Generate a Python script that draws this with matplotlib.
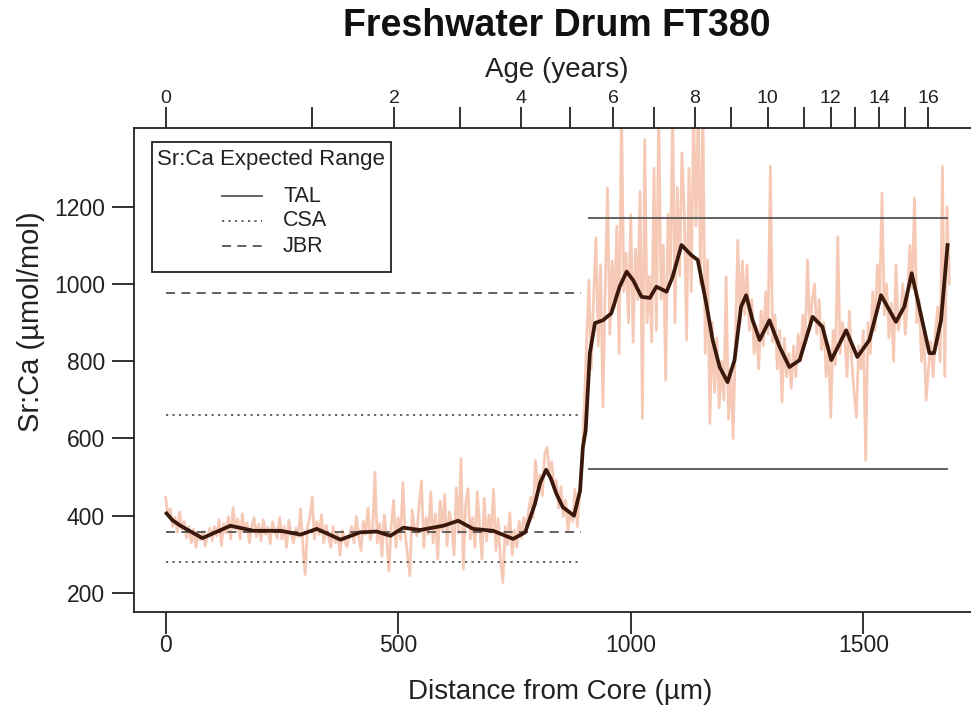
import numpy as np
import matplotlib
matplotlib.use('Agg')
import matplotlib.pyplot as plt
from matplotlib.lines import Line2D
from matplotlib.patches import Rectangle

plt.rcParams['font.family'] = ['Liberation Sans', 'DejaVu Sans']

# ---------------- data ----------------
raw_start = 0      # µm
raw_step = 5       # µm between laser-ablation samples
raw_srca = [
    448, 400, 418, 372, 395, 358, 410, 365, 385, 342,
    372, 330, 365, 318, 352, 338, 360, 322, 345, 368,
    335, 372, 348, 390, 322, 380, 355, 398, 340, 421,
    365, 392, 340, 405, 358, 382, 330, 372, 395, 345,
    378, 335, 390, 352, 370, 328, 384, 360, 342, 395,
    340, 372, 318, 388, 350, 330, 368, 345, 418, 325,
    248, 372, 395, 448, 340, 385, 352, 402, 330, 375,
    345, 318, 372, 330, 355, 298, 362, 335, 320, 350,
    372, 330, 398, 345, 310, 385, 352, 420, 338, 365,
    512, 330, 380, 295, 402, 345, 257, 372, 440, 318,
    395, 338, 486, 352, 300, 244, 415, 372, 348, 430,
    491, 318, 395, 352, 462, 330, 405, 288, 438, 360,
    455, 322, 410, 378, 298, 472, 355, 548, 262, 430,
    470, 340, 395, 318, 462, 372, 288, 445, 335, 402,
    355, 468, 310, 392, 285, 227, 372, 325, 408, 298,
    362, 318, 385, 342, 395, 372, 410, 448, 395, 543,
    470, 505, 452, 560, 577, 515, 540, 468, 492, 420,
    475, 398, 440, 362, 410, 385, 468, 372, 455, 540,
    680, 850, 1010, 780, 960, 1120, 840, 1050, 681, 990,
    1249, 870, 1060, 940, 1150, 820, 1460, 980, 1080, 900,
    1180, 850, 1090, 960, 1240, 652, 1374, 900, 1020, 850,
    1300, 880, 1460, 960, 1100, 751, 1180, 1020, 1460, 900,
    1250, 1020, 1340, 1180, 855, 1300, 980, 1460, 1150, 1460,
    1000, 1460, 820, 1062, 639, 900, 720, 860, 680, 800,
    700, 1019, 650, 780, 600, 860, 1114, 900, 1060, 920,
    1050, 880, 960, 820, 890, 780, 930, 840, 980, 870,
    1305, 850, 920, 780, 880, 694, 860, 760, 820, 730,
    840, 760, 870, 800, 920, 850, 1062, 880, 960, 1000,
    870, 960, 830, 900, 760, 840, 655, 880, 790, 1123,
    820, 900, 860, 760, 930, 800, 720, 655, 840, 780,
    880, 543, 900, 820, 980, 880, 1050, 960, 1236, 920,
    1000, 860, 950, 800, 1050, 880, 920, 1000, 870, 960,
    1100, 990, 1223, 900, 960, 800, 880, 699, 780, 850,
    760, 880, 940, 800, 1305, 760, 1200, 1000,
]

smooth_dist = [2, 15, 32, 79, 139, 189, 247, 290, 325, 376, 418, 454, 483, 511,
               547, 597, 629, 661, 704, 747, 773, 794, 805, 818, 828, 840, 854,
               878, 891, 897, 903, 912, 923, 940, 958, 976, 991, 1005, 1023,
               1041, 1055, 1077, 1090, 1109, 1130, 1144, 1162, 1176, 1191, 1208,
               1223, 1237, 1248, 1262, 1277, 1298, 1320, 1341, 1363, 1391, 1412,
               1431, 1463, 1487, 1513, 1538, 1570, 1588, 1604, 1620, 1642, 1652,
               1667, 1681]
smooth_srca = [406, 388, 374, 342, 374, 361, 361, 351, 366, 338, 357, 359, 348, 369,
               363, 374, 387, 366, 361, 340, 357, 431, 485, 519, 497, 457, 422,
               400, 465, 577, 621, 821, 899, 906, 924, 993, 1032, 1010, 967,
               964, 993, 980, 1019, 1101, 1075, 1062, 951, 855, 785, 746,
               803, 941, 971, 906, 855, 906, 837, 785, 803, 915, 889,
               803, 880, 811, 855, 971, 902, 941, 1028, 941, 821, 821,
               906, 1101]

range_names = ['TAL', 'CSA', 'JBR']
range_low = [522, 279, 357]
range_high = [1171, 662, 977]
range_start = [908, 0, 0]
range_end = [1682, 892, 892]
range_styles = ['-', (0, (1.2, 2.4)), (0, (5, 3.5))]

bottom_ticks = [0, 500, 1000, 1500]
y_ticks = [200, 400, 600, 800, 1000, 1200]
age_dist = [0, 315, 491, 632, 765, 870, 962, 1050, 1138, 1216, 1294, 1372,
            1430, 1483, 1534, 1589, 1639]
age_labels = ['0', '', '2', '', '4', '', '6', '', '8', '', '10', '', '12',
              '', '14', '', '16']

# ---------------- figure ----------------
W, H = 971, 717
fig = plt.figure(figsize=(W / 100, H / 100), dpi=100)
fig.patch.set_facecolor('white')

def fx(px):
    return px / W

def fy(py):
    return 1 - py / H

ax_l, ax_r, ax_t, ax_b = 134, 975, 128, 612
ax = fig.add_axes([fx(ax_l), fy(ax_b), (ax_r - ax_l) / W, (ax_b - ax_t) / H])
ax.set_xlim(-68, 1740)
ax.set_ylim(150.7, 1404)

raw_dist = raw_start + raw_step * np.arange(len(raw_srca))
ax.plot(raw_dist, raw_srca, color='#F5C4AE', lw=2.0, alpha=0.9, zorder=2)

for name, lo, hi, s, e, ls in zip(range_names, range_low, range_high,
                                   range_start, range_end, range_styles):
    ax.hlines([lo, hi], s, e, colors='#555555', linestyles=[ls], lw=1.3, zorder=3)

ax.plot(smooth_dist, smooth_srca, color='#3A190C', lw=2.7, zorder=4,
        solid_joinstyle='round')

for sp in ax.spines.values():
    sp.set_linewidth(1.3)
    sp.set_color('#222222')

ax.set_xticks(bottom_ticks)
ax.set_xticklabels([str(t) for t in bottom_ticks])
ax.set_yticks(y_ticks)
ax.set_yticklabels([str(t) for t in y_ticks])
ax.tick_params(axis='x', direction='out', length=16, width=1.3, pad=0,
               labelsize=16.5, colors='#222222')
ax.tick_params(axis='y', direction='out', length=16, width=1.3, pad=5,
               labelsize=16.5, colors='#222222')

ax2 = ax.twiny()
ax2.set_xlim(ax.get_xlim())
ax2.set_xticks(age_dist)
ax2.set_xticklabels(age_labels)
ax2.tick_params(axis='x', direction='out', length=15, width=1.3, pad=0,
                labelsize=14, colors='#222222')
for sp in ax2.spines.values():
    sp.set_visible(False)

# legend (drawn in figure pixel layout to mirror the reference box)
box = Rectangle((fx(152), fy(272)), fx(391) - fx(152), fy(142) - fy(272),
                transform=fig.transFigure, facecolor='white',
                edgecolor='#222222', lw=1.3, zorder=10, clip_on=False)
ax.add_patch(box)
ax.text(fx(271), fy(160), 'Sr:Ca Expected Range', transform=fig.transFigure,
        ha='center', va='center', fontsize=16, color='#222222', zorder=11)
for i, (name, ls) in enumerate(zip(range_names, range_styles)):
    yy = fy(196 + 25 * i)
    ax.add_line(Line2D([fx(222), fx(262)], [yy, yy], transform=fig.transFigure,
                       color='#555555', lw=1.3, linestyle=ls, zorder=11,
                       clip_on=False))
    ax.text(fx(283), yy, name, transform=fig.transFigure, ha='left',
            va='center', fontsize=15.5, color='#222222', zorder=11)

# texts
fig.text(fx(557), fy(26), 'Freshwater Drum FT380', ha='center', va='center',
         fontsize=27, fontweight='bold', color='#111111')
fig.text(fx(557), fy(70), 'Age (years)', ha='center', va='center',
         fontsize=20, color='#222222')
fig.text(fx(560), fy(692), 'Distance from Core (µm)', ha='center', va='center',
         fontsize=20, color='#222222')
fig.text(fx(31), fy(322), 'Sr:Ca (µmol/mol)', ha='center', va='center',
         rotation=90, fontsize=21, color='#222222')

fig.savefig('out.png', dpi=100, facecolor='white')
